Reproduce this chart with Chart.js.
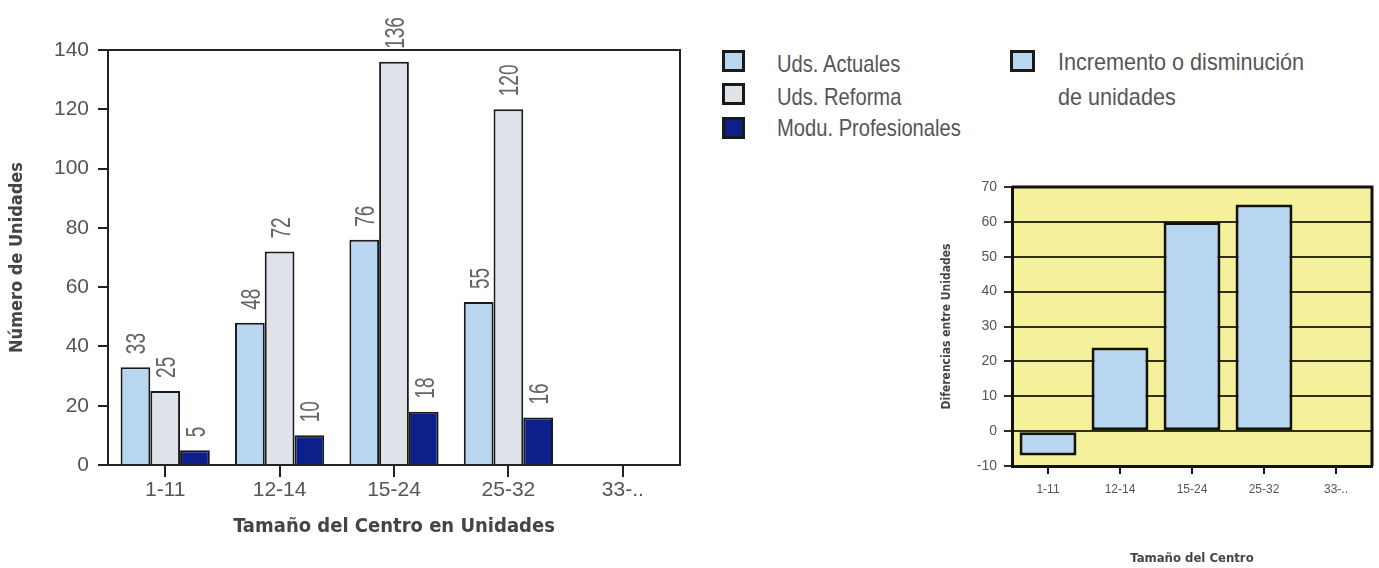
<!DOCTYPE html>
<html>
<head>
<meta charset="utf-8">
<script src="https://cdn.jsdelivr.net/npm/chart.js@4.4.1/dist/chart.umd.min.js"></script>
<style>
    body {
        margin: 0;
        width: 1379px;
        height: 568px;
        position: relative;
        overflow: hidden;
        background: #fff;
        font-family: 'Liberation Sans', Arial, sans-serif;
        color: #555;
    }
    #grafica-unidades { position: absolute; left: 0; top: 0; }
    #grafica-diferencia { position: absolute; left: 920px; top: 170px; }
    .cuadro {
        position: absolute;
        box-sizing: border-box;
        border: 3px solid #1a1a1a;
    }
    .texto {
        position: absolute;
        font-size: 24px;
        line-height: 28px;
        white-space: nowrap;
        transform-origin: left top;
        transform: scaleX(0.84);
    }
</style>
</head>
<body>
<canvas id="grafica-unidades" width="700" height="568"></canvas>
<canvas id="grafica-diferencia" width="459" height="398"></canvas>

<div class="cuadro" id="cuadro-actuales" style="left:722px;top:50px;width:23px;height:22px;"></div>
<div class="texto" style="left:777px;top:50px;">Uds. Actuales</div>
<div class="cuadro" id="cuadro-reforma" style="left:722px;top:83px;width:23px;height:22px;"></div>
<div class="texto" style="left:777px;top:83px;">Uds. Reforma</div>
<div class="cuadro" id="cuadro-modu" style="left:722px;top:117px;width:23px;height:22px;"></div>
<div class="texto" style="left:777px;top:114px;">Modu. Profesionales</div>

<div class="cuadro" id="cuadro-dif" style="left:1010px;top:50px;width:25px;height:22px;"></div>
<div class="texto" style="left:1058px;top:44px;line-height:35px;transform:scaleX(0.9);">Incremento o disminución<br>de unidades</div>

<script>
// datos de la grafica de la izquierda
const categorias = ['1-11', '12-14', '15-24', '25-32', '33-..'];
const udsActuales = [33, 48, 76, 55, null];
const udsReforma = [25, 72, 136, 120, null];
const moduProfesionales = [5, 10, 18, 16, null];

// datos de la grafica de la derecha
const categoriasDif = ['1-11', '12-14', '15-24', '25-32', '33-..'];
const diferencias = [-7, 24, 60, 65, null];

const fuente = "'Liberation Sans', Arial, sans-serif";
const fuenteTitulo = "'DejaVu Sans Condensed', 'Liberation Sans', sans-serif";
const colorActuales = '#b8d6f0';
const colorReforma = '#dee2e9';
const colorModu = '#0d1f8a';

Chart.defaults.font.family = fuente;

document.getElementById('cuadro-actuales').style.background = colorActuales;
document.getElementById('cuadro-reforma').style.background = colorReforma;
document.getElementById('cuadro-modu').style.background = colorModu;
document.getElementById('cuadro-dif').style.background = colorActuales;

// numeros girados encima de cada barra
const etiquetasBarras = {
    id: 'etiquetasBarras',
    afterDatasetsDraw(chart) {
        const ctx = chart.ctx;
        ctx.save();
        ctx.fillStyle = '#666';
        ctx.font = '28px ' + fuente;
        ctx.textAlign = 'left';
        ctx.textBaseline = 'alphabetic';
        chart.data.datasets.forEach((ds, i) => {
            chart.getDatasetMeta(i).data.forEach((barra, j) => {
                const v = ds.data[j];
                if (v == null) return;
                ctx.save();
                ctx.translate(barra.x, barra.y - 13);
                ctx.rotate(-Math.PI / 2);
                ctx.scale(0.68, 1);
                ctx.fillText(String(v), 0, 10);
                ctx.restore();
            });
        });
        ctx.restore();
    }
};

// lineas de arriba y derecha del recuadro
const marco = {
    id: 'marco',
    afterDraw(chart, args, opts) {
        const { left, right, top, bottom } = chart.chartArea;
        const ctx = chart.ctx;
        ctx.save();
        ctx.strokeStyle = opts.color || '#222';
        ctx.lineWidth = opts.width || 2;
        ctx.beginPath();
        ctx.moveTo(left, top);
        ctx.lineTo(right, top);
        ctx.lineTo(right, bottom);
        ctx.stroke();
        ctx.restore();
    }
};

// fondo amarillo del area
const fondo = {
    id: 'fondo',
    beforeDraw(chart, args, opts) {
        const { left, top, width, height } = chart.chartArea;
        chart.ctx.save();
        chart.ctx.fillStyle = opts.color;
        chart.ctx.fillRect(left, top, width, height);
        chart.ctx.restore();
    }
};

function createGraficaUnidades() {
    const datos = {
        labels: categorias,
        datasets: [
            { label: 'Uds. Actuales', data: udsActuales, backgroundColor: colorActuales },
            { label: 'Uds. Reforma', data: udsReforma, backgroundColor: colorReforma },
            { label: 'Modu. Profesionales', data: moduProfesionales, backgroundColor: colorModu }
        ]
    };
    datos.datasets.forEach(d => {
        d.borderColor = '#1a1a1a';
        d.borderWidth = 2;
        d.categoryPercentage = 0.78;
        d.barPercentage = 1;
    });

    const opciones = {
        responsive: false,
        animation: false,
        layout: { padding: { top: 50, right: 20, left: 0, bottom: 0 } },
        plugins: {
            legend: { display: false },
            tooltip: { enabled: false },
            marco: { width: 2, color: '#222' }
        },
        scales: {
            x: {
                grid: { display: true, drawOnChartArea: false, offset: false, tickLength: 12, color: '#222', lineWidth: 2 },
                border: { display: true, color: '#222', width: 2 },
                ticks: { font: { size: 21 }, color: '#555', padding: 1 },
                title: {
                    display: true, text: 'Tamaño del Centro en Unidades',
                    font: { family: fuenteTitulo, size: 20, weight: 'bold' }, color: '#444',
                    padding: { top: 0, bottom: 29 }
                },
                afterFit(s) { s.height = 103; }
            },
            y: {
                min: 0,
                max: 140,
                ticks: { stepSize: 20, font: { size: 21 }, color: '#555', padding: 9 },
                grid: { drawOnChartArea: false, tickLength: 10, color: '#222', lineWidth: 2 },
                border: { display: true, color: '#222', width: 2 },
                title: {
                    display: true, text: 'Número de Unidades',
                    font: { family: fuenteTitulo, size: 18, weight: 'bold' }, color: '#444',
                    padding: { top: 7, bottom: 0 }
                },
                afterFit(s) { s.width = 108; }
            }
        }
    };

    new Chart(document.getElementById('grafica-unidades'), {
        type: 'bar',
        data: datos,
        options: opciones,
        plugins: [etiquetasBarras, marco]
    });
}

function createGraficaDiferencia() {
    const datos = {
        labels: categoriasDif,
        datasets: [{
            label: 'Incremento o disminución de unidades',
            data: diferencias,
            backgroundColor: colorActuales,
            borderColor: '#111',
            borderWidth: 3,
            borderSkipped: false,
            categoryPercentage: 1,
            barPercentage: 0.79
        }]
    };

    const opciones = {
        responsive: false,
        animation: false,
        layout: { padding: { top: 17, right: 7, left: 0, bottom: 0 } },
        plugins: {
            legend: { display: false },
            tooltip: { enabled: false },
            marco: { width: 3, color: '#111' },
            fondo: { color: '#f5f09b' }
        },
        scales: {
            x: {
                grid: { display: true, drawOnChartArea: false, offset: false, tickLength: 8, color: '#111', lineWidth: 2 },
                border: { display: true, color: '#111', width: 3 },
                ticks: { font: { size: 12 }, color: '#555', padding: 8 },
                title: {
                    display: true, text: 'Tamaño del Centro',
                    font: { family: fuenteTitulo, size: 13, weight: 'bold' }, color: '#444',
                    padding: { top: 0, bottom: 2 }
                },
                afterFit(s) { s.height = 102; }
            },
            y: {
                min: -10,
                max: 70,
                ticks: { stepSize: 10, font: { size: 14 }, color: '#555', padding: 7 },
                grid: { tickLength: 8, color: '#2f2f14', lineWidth: 2 },
                border: { display: true, color: '#111', width: 3 },
                title: {
                    display: true, text: 'Diferencias entre Unidades',
                    font: { family: fuenteTitulo, size: 12, weight: 'bold' }, color: '#444',
                    padding: { top: 20, bottom: 0 }
                },
                afterFit(s) { s.width = 92; }
            }
        }
    };

    new Chart(document.getElementById('grafica-diferencia'), {
        type: 'bar',
        data: datos,
        options: opciones,
        plugins: [fondo, marco]
    });
}

createGraficaUnidades();
createGraficaDiferencia();
</script>
</body>
</html>
